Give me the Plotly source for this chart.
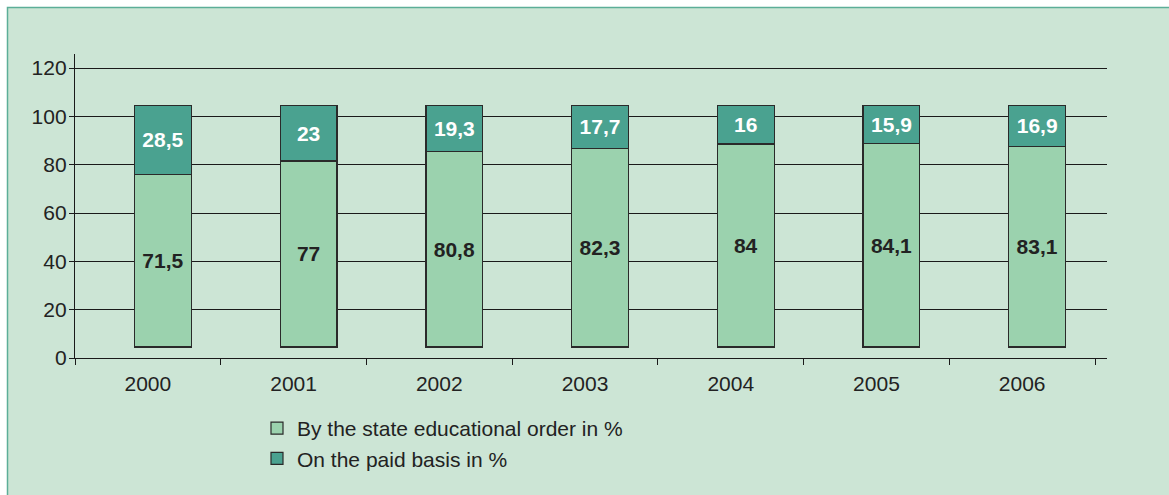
import plotly.graph_objects as go

# Enrolment structure by year, percent of admitted students
years = ["2000", "2001", "2002", "2003", "2004", "2005", "2006"]
state_order = [71.5, 77, 80.8, 82.3, 84, 84.1, 83.1]
paid_basis = [28.5, 23, 19.3, 17.7, 16, 15.9, 16.9]
y_ticks = [0, 20, 40, 60, 80, 100, 120]

series_names = ["By the state educational order in %", "On the paid basis in %"]

W, H = 1169, 495
FONT = "Liberation Sans, Arial, sans-serif"
BG = "#CCE5D5"
LIGHT = "#9BD2AE"
TEAL = "#4AA290"
INK = "#222222"


def fmt(v):
    return f"{v:g}".replace(".", ",")


fig = go.Figure()

# empty trace that anchors the visible category / value axes
fig.add_trace(go.Scatter(
    x=years, y=[None] * len(years), mode="markers",
    showlegend=False, hoverinfo="skip",
))

fig.add_trace(go.Bar(
    x=years, y=state_order, name=series_names[0],
    xaxis="x2", yaxis="y2",
    marker=dict(color=LIGHT, line=dict(color="#2a2a2a", width=1.2)),
    text=[fmt(v) for v in state_order], textposition="inside",
    insidetextanchor="middle", textangle=0, constraintext="none",
    insidetextfont=dict(family=FONT, size=21, color=INK, weight="bold"),
    width=0.39, hoverinfo="skip",
))
fig.add_trace(go.Bar(
    x=years, y=paid_basis, name=series_names[1],
    xaxis="x2", yaxis="y2",
    marker=dict(color=TEAL, line=dict(color="#2a2a2a", width=1.2)),
    text=[fmt(v) for v in paid_basis], textposition="inside",
    insidetextanchor="middle", textangle=0, constraintext="none",
    insidetextfont=dict(family=FONT, size=21, color="white", weight="bold"),
    width=0.39, hoverinfo="skip",
))

# plot area in pixels
L, R, T, B = 75, 1107, 54, 358
x_lo, x_hi = -0.5, 6.582
y_lo, y_hi = 0, 125.8
# bars sit slightly right of and above the axes (depth offset)
dx, dy = 0.103, 4.55


def px_x(p):
    return (p - L) / (R - L)


def px_y(p):
    return (B - p) / (B - T)


fig.update_layout(
    width=W, height=H,
    margin=dict(l=L, r=W - R, t=T, b=H - B, pad=0, autoexpand=False),
    paper_bgcolor="white",
    plot_bgcolor="rgba(0,0,0,0)",
    barmode="stack",
    font=dict(family=FONT, size=20, color=INK),
    xaxis=dict(
        type="category", categoryorder="array", categoryarray=years,
        range=[x_lo, x_hi], tickson="boundaries", ticks="outside",
        ticklen=6, tickwidth=1.3, tickcolor="#1a1a1a",
        showline=True, linecolor="#1a1a1a", linewidth=1.3,
        showgrid=False, zeroline=False,
        tickfont=dict(size=21, color=INK), ticklabelstandoff=7,
    ),
    yaxis=dict(
        range=[y_lo, y_hi], tickvals=y_ticks, ticks="outside",
        ticklen=5, tickwidth=1.3, tickcolor="#1a1a1a",
        showline=True, linecolor="#1a1a1a", linewidth=1.3,
        showgrid=True, gridcolor="#1a1a1a", gridwidth=1.3,
        zeroline=False, tickfont=dict(size=21, color=INK),
        ticklabelstandoff=-2,
    ),
    xaxis2=dict(
        type="category", categoryorder="array", categoryarray=years,
        range=[x_lo - dx, x_hi - dx], overlaying="x", visible=False,
    ),
    yaxis2=dict(
        range=[y_lo - dy, y_hi - dy], overlaying="y", visible=False,
    ),
    showlegend=True,
    legend=dict(
        traceorder="normal", orientation="v",
        xref="container", yref="container",
        x=257 / W, y=1 - 408 / H, xanchor="left", yanchor="top",
        bgcolor="rgba(0,0,0,0)", font=dict(size=21, color=INK),
    ),
    shapes=[dict(
        type="rect", xref="paper", yref="paper", layer="below",
        x0=px_x(7.5), x1=px_x(W + 5), y0=px_y(H + 5), y1=px_y(7.5),
        fillcolor=BG, line=dict(color="#5CAE98", width=1.5),
    )],
)

fig.write_html("out.html")
